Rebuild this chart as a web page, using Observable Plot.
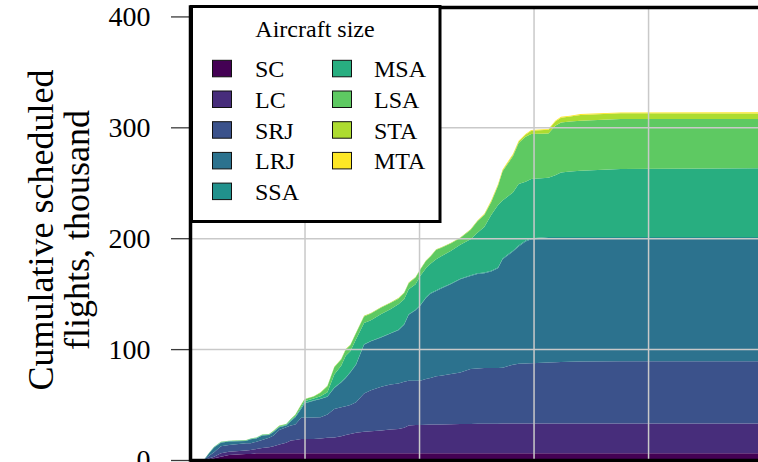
<!DOCTYPE html>
<html>
<head>
<meta charset="utf-8">
<script src="https://cdn.jsdelivr.net/npm/d3@7"></script>
<script src="https://cdn.jsdelivr.net/npm/@observablehq/plot@0.6"></script>
<style>
  html, body { margin: 0; padding: 0; background: #fff; overflow: hidden; }
  #wrap { position: relative; width: 758px; height: 462px; font-family: "Liberation Serif", serif; }
  #wrap > svg { position: absolute; left: 0; top: 0; }
  #wrap svg text { font-family: "Liberation Serif", serif; }
</style>
</head>
<body>
<div id="wrap"></div>
<script>
// ---- data (thousand flights, per aircraft size layer) ----
const xs = [0.12,0.17,0.21,0.27,0.34,0.49,0.53,0.58,0.63,0.69,0.73,0.78,0.84,0.88,0.92,0.97,1.00,1.08,1.14,1.20,1.26,1.32,1.36,1.40,1.45,1.52,1.58,1.67,1.75,1.82,1.87,1.91,1.97,2.01,2.06,2.10,2.15,2.19,2.28,2.36,2.45,2.51,2.57,2.63,2.69,2.73,2.82,2.87,2.93,2.98,3.13,3.19,3.24,3.32,3.41,3.76,4.97];

const SC  = [0,0.5,1.5,3,4.5,5.5,5.5,6,6,6,6,6,6,6,6,6,6,6,6,6,6,6,6,6,6,6,6,6,6,6,6,6,6,6,6,6,6,6,6,6,6,6,6,6,6,6,6,6,6,6,6,6,6,6,6,6,6];
const LC  = [0,1,1.5,3,3,3,3.5,4,4.8,5.5,6.5,8,9.5,11.5,12,13,13,13,13.5,14,14.4,15.5,16.5,17.5,18.5,19.5,20,20.5,21.5,22,23,25,25.5,25.5,25.8,26,26,26,26.2,26.4,26.5,26.7,26.7,26.8,26.8,27,27,27,27,27,27,27,27,27,27,27,27];
const SRJ = [0,2.5,4,6.5,6,6.5,6,6.5,7.2,8.5,9.5,13,14,13.5,14,19,19.2,19.4,19,21,25.6,26,26,26,27.5,34.5,37,39.5,40.5,41,41.5,40.5,40,40,41.2,42,43.5,44,45.3,46.6,49.5,49.8,50.3,50.2,50.2,50.3,53,53.8,54,54.2,55,55.2,55.4,55.6,55.8,56,56];
const LRJ = [0,2.5,4.2,3,3.1,2.2,3.6,3,4,2.5,3.3,2.5,1.5,4,6.5,8,12.8,15.1,16.5,16,19,22.5,25.5,29.5,34,44,44,44.5,46,48,51.5,59.5,63.5,67.5,73,76,77,78.5,81.2,84,84,85.2,85.5,87,90,97.7,102,105.7,110,111.8,111.5,111.3,111.1,110.9,110.7,110.5,110.5];
const SSA = [0,0.1,0.2,0.2,0.2,0.2,0.2,0.2,0.2,0.2,0.2,0.2,0.2,0.2,0.2,0.3,0.3,0.3,0.3,0.3,0.3,0.3,0.3,0.3,0.3,0.4,0.4,0.4,0.4,0.4,0.4,0.4,0.5,0.5,0.5,0.5,0.5,0.5,0.5,0.5,0.6,0.6,0.6,0.7,0.7,0.8,0.8,0.9,1,1,1.5,1.5,1.5,1.5,1.5,1.7,1.7];
const MSA = [0,0.2,0.3,0.4,0.3,0.3,0.3,0.3,0.3,0.3,0.4,0.5,0.5,0.8,0.8,1.2,1.7,1.7,2.2,3.7,11.7,14.7,19.7,18.7,22.7,19.1,18.6,20.7,21.6,23.1,22.6,22.6,23,26.5,26.5,26.5,28,28.5,29.5,30.5,32.4,36.7,40.9,50.3,56.3,52.2,52.5,55.5,53,53.4,53.5,55.8,58.3,59.2,59.9,61.2,61.8];
const LSA = [0,0.2,0.2,0.3,0.2,0.2,0.3,0.3,0.4,0.4,0.5,0.7,0.7,0.9,1.3,2.2,1.7,1.7,3.2,5.6,6.6,5.6,5.5,5.5,5.5,6,6,5.9,5.5,5,5.5,5.5,6,5.5,6.5,6.5,8.5,7.7,6.8,6.2,8.5,10.2,11,11.5,17.3,26.3,32.7,36.9,40.5,40.6,40,44.7,45.1,45.1,45.1,45.1,44.5];
const STA = [0,0,0.1,0.1,0.1,0.1,0.1,0.1,0.1,0.1,0.1,0.1,0.1,0.1,0.2,0.3,0.3,0.3,0.3,0.4,0.4,0.4,0.5,0.5,0.5,0.5,0.5,0.5,0.5,0.5,0.5,0.5,0.5,0.5,0.5,0.5,0.5,0.5,0.5,0.5,0.5,0.6,0.6,0.8,0.9,0.9,1.2,1.5,1.8,3,3.3,3.8,4.3,4.4,5.2,5.1,5];
const MTA = [0,0,0,0,0,0,0,0,0,0,0,0,0,0,0,0,0,0,0,0,0,0,0,0,0,0,0,0,0,0,0,0,0,0,0,0,0,0,0,0,0,0.2,0.4,0.7,0.8,0.8,0.8,0.7,0.7,0.6,0.7,0.7,0.8,0.8,0.8,0.8,1];

const sizes = ["SC","LC","SRJ","LRJ","SSA","MSA","LSA","STA","MTA"];
const layers = [SC, LC, SRJ, LRJ, SSA, MSA, LSA, STA, MTA];
const yTicks = [0, 100, 200, 300, 400];
const xGrid = [1, 2, 3, 4];
const yGrid = [100, 200, 300];
const yLabel = "Cumulative scheduled\nflights, thousand";
const legendTitle = "Aircraft size";

const colors = sizes.map((_, i) => d3.interpolateViridis(i / (sizes.length - 1)));

const rows = sizes.flatMap((s, i) => xs.map((x, j) => ({x, size: s, value: layers[i][j]})));

const serif = "Liberation Serif";

const chart = Plot.plot({
  width: 758,
  height: 462,
  marginLeft: 190,
  marginRight: 0,
  marginTop: 7,
  marginBottom: 2,
  x: {domain: [0, 4.96], axis: null},
  y: {domain: [0, 408.5], axis: null},
  color: {domain: sizes, range: colors},
  style: {fontFamily: serif, background: "white", overflow: "visible"},
  marks: [
    Plot.areaY(rows, {x: "x", y: "value", fill: "size", curve: "linear"}),
    Plot.ruleX(xGrid, {stroke: "#c9c9c9", strokeWidth: 1.5}),
    Plot.ruleY(yGrid, {stroke: "#c9c9c9", strokeWidth: 1.5}),
    Plot.axisY(yTicks, {tickSize: 19, tickPadding: 21, fontSize: 28, fontFamily: serif, stroke: "#3a3a3a", strokeWidth: 1.3, tickFormat: d => d, label: null, fill: "black"}),
    Plot.ruleY([0], {stroke: "black", strokeWidth: 3.5}),
    Plot.ruleY([408.5], {stroke: "black", strokeWidth: 3.5}),
    Plot.ruleX([0], {stroke: "black", strokeWidth: 3.5, strokeLinecap: "square"}),
    Plot.text([yLabel], {text: d => d, frameAnchor: "left", textAnchor: "middle", lineAnchor: "middle", rotate: -90, fontSize: 36, fontFamily: serif, lineHeight: 1.0, dx: -131, dy: -4, fill: "black"})
  ]
});
document.getElementById("wrap").appendChild(chart);

// ---- legend overlay (inside the axes, upper left) ----
const leg = d3.select("#wrap").append("svg")
  .attr("width", 758).attr("height", 462)
  .style("pointer-events", "none")
  .style("font-family", serif);
leg.append("rect")
  .attr("x", 191.5).attr("y", 6.5).attr("width", 248.5).attr("height", 215)
  .attr("fill", "white").attr("stroke", "black").attr("stroke-width", 3);
leg.append("text")
  .attr("x", 315).attr("y", 37).attr("text-anchor", "middle")
  .attr("font-size", 24).attr("fill", "black").text(legendTitle);
sizes.forEach((s, i) => {
  const col = i < 5 ? 0 : 1;
  const row = i < 5 ? i : i - 5;
  const base = 77.3 + row * 30.7;
  const sx = col === 0 ? 212.5 : 332.5;
  const tx = col === 0 ? 255 : 374;
  leg.append("rect")
    .attr("x", sx).attr("y", base - 17).attr("width", 19).attr("height", 16.5)
    .attr("fill", colors[i]).attr("stroke", "#111").attr("stroke-width", 1);
  leg.append("text")
    .attr("x", tx).attr("y", base).attr("font-size", 24).attr("fill", "black").text(s);
});
</script>
</body>
</html>
